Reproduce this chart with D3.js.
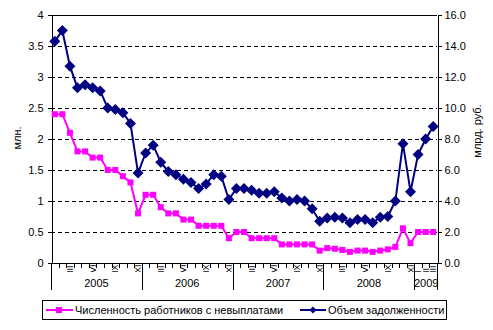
<!DOCTYPE html>
<html><head><meta charset="utf-8">
<script src="https://cdn.jsdelivr.net/npm/d3@7"></script>
<style>body{margin:0;background:#fff}svg{display:block}text{font-family:Arial,"Liberation Sans",sans-serif}</style>
</head><body>
<script>
const years = ["2005","2006","2007","2008","2009"];
const yearMonths = [12,12,12,12,3];
const monthLabels = ["","","III","","","VI","","","IX","","","XII",
"","","III","","","VI","","","IX","","","XII",
"","","III","","","VI","","","IX","","","XII",
"","","III","","","VI","","","IX","","","XII",
"I","II","III"];
const workers = [2.4,2.4,2.1,1.8,1.8,1.7,1.7,1.5,1.5,1.4,1.3,0.8,
1.1,1.1,0.9,0.8,0.8,0.7,0.7,0.6,0.6,0.6,0.6,0.4,
0.5,0.5,0.4,0.4,0.4,0.4,0.3,0.3,0.3,0.3,0.3,0.2,
0.24,0.23,0.21,0.18,0.2,0.2,0.18,0.2,0.22,0.26,0.56,0.32,
0.5,0.5,0.5];
const debt = [14.3,15.0,12.7,11.3,11.5,11.3,11.1,10.0,9.9,9.7,9.0,5.8,
7.1,7.6,6.5,5.9,5.7,5.4,5.2,4.8,5.1,5.7,5.6,4.1,
4.8,4.8,4.7,4.5,4.5,4.6,4.2,4.0,4.1,4.0,3.5,2.7,
2.9,2.95,2.9,2.6,2.8,2.8,2.6,2.95,3.0,4.0,7.7,4.6,
7.0,8.0,8.8];
const leftTicks = [0,0.5,1,1.5,2,2.5,3,3.5,4];
const rightTicks = [0,2,4,6,8,10,12,14,16];
const seriesNames = ["Численность работников с невыплатами","Объем задолженности"];

const W=493,H=330, L=51, R=437, T=15, B=263;
const svg=d3.select("body").append("svg").attr("width",W).attr("height",H);
const n = workers.length;
const x = d3.scaleBand().domain(d3.range(n)).range([L,R]).paddingInner(0).paddingOuter(0);
const cx = i => x(i)+x.bandwidth()/2;
const yL = d3.scaleLinear().domain([0,4]).range([B,T]);
const yR = d3.scaleLinear().domain([0,16]).range([B,T]);

// gridlines
svg.append("g").selectAll("line").data(leftTicks.filter(d=>d>0&&d<4)).join("line")
 .attr("x1",L).attr("x2",R).attr("y1",d=>Math.round(yL(d))+0.5).attr("y2",d=>Math.round(yL(d))+0.5)
 .attr("stroke","#000").attr("stroke-dasharray","4,3").attr("shape-rendering","crispEdges");
// top border
svg.append("line").attr("x1",L).attr("x2",R).attr("y1",T+0.5).attr("y2",T+0.5).attr("stroke","#000").attr("shape-rendering","crispEdges");

// left axis
const ga = svg.append("g").attr("transform",`translate(${L+0.5},0)`)
 .call(d3.axisLeft(yL).tickValues(leftTicks).tickSize(4).tickPadding(4).tickFormat(d3.format("")));
ga.selectAll("text").attr("font-size",11).attr("font-family","Arial");
ga.select(".domain").attr("shape-rendering","crispEdges");
ga.selectAll(".tick line").attr("shape-rendering","crispEdges");
// right axis
const gr = svg.append("g").attr("transform",`translate(${R+0.5},0)`)
 .call(d3.axisRight(yR).tickValues(rightTicks).tickSize(4).tickPadding(3).tickFormat(d3.format(".1f")));
gr.selectAll("text").attr("font-size",11).attr("font-family","Arial");
gr.select(".domain").attr("shape-rendering","crispEdges");
gr.selectAll(".tick line").attr("shape-rendering","crispEdges");
svg.selectAll(".domain").attr("stroke","#000");

// x axis line
svg.append("line").attr("x1",L).attr("x2",R+1).attr("y1",B+0.5).attr("y2",B+0.5).attr("stroke","#000").attr("shape-rendering","crispEdges");
// month ticks
const bounds = d3.range(n+1).map(i=> i<n ? x(i) : R);
let yb=[0]; yearMonths.forEach(m=>yb.push(yb[yb.length-1]+m));
svg.append("g").selectAll("line").data(d3.range(n+1)).join("line")
 .attr("x1",i=>Math.round(bounds[i])+0.5).attr("x2",i=>Math.round(bounds[i])+0.5)
 .attr("y1",B).attr("y2",i=>yb.includes(i)?290:268)
 .attr("stroke","#000").attr("shape-rendering","crispEdges");
// month labels (rotated, clipped)
svg.append("clipPath").attr("id","mclip").append("rect").attr("x",L).attr("y",265).attr("width",R-L).attr("height",7);
svg.append("g").attr("clip-path","url(#mclip)").selectAll("text").data(monthLabels.map((t,i)=>({t,i})).filter(d=>d.t)).join("text")
 .attr("transform",d=>`translate(${cx(d.i)+3},${273}) rotate(-90)`)
 .attr("font-size",9).attr("text-anchor","start").text(d=>d.t);
// year labels
svg.append("g").selectAll("text").data(years).join("text")
 .attr("x",(d,k)=>(bounds[yb[k]]+bounds[yb[k+1]])/2+ (k===4?0.5:0)).attr("y",287)
 .attr("text-anchor","middle").attr("font-size",11).text(d=>d);

// axis titles
svg.append("text").attr("transform","translate(21,138) rotate(-90)").attr("text-anchor","middle").attr("font-size",11).text("млн.");
svg.append("text").attr("transform","translate(481,131) rotate(-90)").attr("text-anchor","middle").attr("font-size",11).text("млрд. руб.");

// series
const magenta="#FF00FF", navy="#000080";
svg.append("path").datum(workers).attr("fill","none").attr("stroke",magenta).attr("stroke-width",2)
 .attr("d",d3.line().x((d,i)=>cx(i)).y(d=>yL(d)));
svg.append("g").selectAll("rect").data(workers).join("rect")
 .attr("x",(d,i)=>cx(i)-3).attr("y",d=>yL(d)-3).attr("width",6).attr("height",6).attr("fill",magenta);
svg.append("path").datum(debt).attr("fill","none").attr("stroke",navy).attr("stroke-width",2)
 .attr("d",d3.line().x((d,i)=>cx(i)).y(d=>yR(d)));
const dia = "M0,-5.5L5.5,0L0,5.5L-5.5,0Z";
svg.append("g").selectAll("path").data(debt).join("path")
 .attr("transform",(d,i)=>`translate(${cx(i)},${yR(d)})`).attr("d",dia).attr("fill",navy);

// legend
const lg = svg.append("g");
lg.append("rect").attr("x",42.5).attr("y",300.5).attr("width",404).attr("height",19).attr("fill","#fff").attr("stroke","#000");
lg.append("line").attr("x1",46).attr("x2",73).attr("y1",310).attr("y2",310).attr("stroke",magenta).attr("stroke-width",2);
lg.append("rect").attr("x",56).attr("y",307).attr("width",6).attr("height",6).attr("fill",magenta);
lg.append("text").attr("x",75).attr("y",314).attr("font-size",11).text(seriesNames[0]);
lg.append("line").attr("x1",300).attr("x2",326).attr("y1",310).attr("y2",310).attr("stroke",navy).attr("stroke-width",2);
lg.append("path").attr("transform","translate(313,310) scale(0.65)").attr("d",dia).attr("fill",navy);
lg.append("text").attr("x",328).attr("y",314).attr("font-size",11).text(seriesNames[1]);
</script>
</body></html>
